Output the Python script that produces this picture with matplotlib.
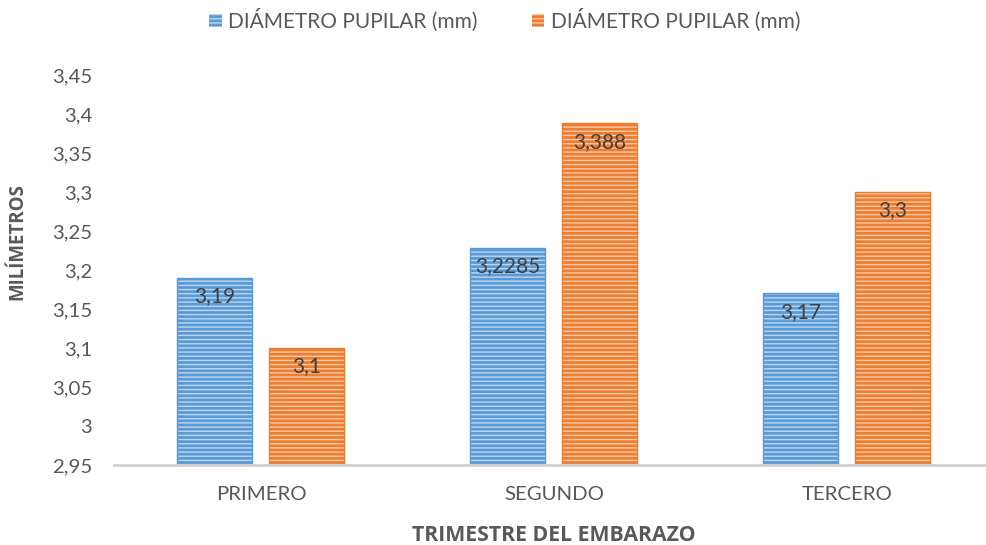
import matplotlib.pyplot as plt
import numpy as np
from matplotlib.patches import Patch

plt.rcParams['font.family'] = ['Lato', 'DejaVu Sans']

categories = ["PRIMERO", "SEGUNDO", "TERCERO"]
serie_1 = [3.19, 3.2285, 3.17]
serie_2 = [3.1, 3.388, 3.3]
labels = ["DIÁMETRO PUPILAR (mm)", "DIÁMETRO PUPILAR (mm)"]
yticks = [2.95, 3.0, 3.05, 3.1, 3.15, 3.2, 3.25, 3.3, 3.35, 3.4, 3.45]

blue = "#5B9BD5"
orange = "#ED7D31"
blue_light = "#BCD6F0"
orange_light = "#F8C9A6"
grey = '#595959'

fmt = lambda v: f"{v:g}".replace('.', ',')

fig = plt.figure(figsize=(9.86, 5.45), dpi=100)
ax = fig.add_axes([0.1161, 0.1468, 0.8915, 0.7156])

x = np.arange(len(categories))
w = 0.256
off = 0.157
base = 2.95
for vals, dx, c, cl in [(serie_1, -off, blue, blue_light), (serie_2, off, orange, orange_light)]:
    h = [v - base for v in vals]
    ax.bar(x + dx, h, w, bottom=base, color=c, edgecolor=cl, hatch='----', linewidth=0)
    ax.bar(x + dx, h, w, bottom=base, fill=False, edgecolor=c, linewidth=1.0)
    for xi, v in zip(x + dx, vals):
        ax.annotate(fmt(v), (xi, v), xytext=(0, -6), textcoords='offset points',
                    ha='center', va='top', fontsize=15, color='#404040')

ax.set_xlim(-0.5, 2.5)
ax.set_ylim(2.95, 3.45)
ax.set_yticks(yticks)
ax.set_yticklabels([fmt(v) for v in yticks])
ax.set_xticks(x)
ax.set_xticklabels(categories)
ax.tick_params(axis='both', length=0, labelsize=14.7, colors=grey)
ax.tick_params(axis='y', pad=16)
ax.tick_params(axis='x', pad=15)
for s in ['top', 'right', 'left']:
    ax.spines[s].set_visible(False)
ax.spines['bottom'].set_color('#D0D0D0')
ax.spines['bottom'].set_linewidth(2)

ax.set_xlabel("TRIMESTRE DEL EMBARAZO", family=['Open Sans', 'DejaVu Sans'], fontsize=15.3,
              fontweight='bold', color=grey, labelpad=16)
ax.set_ylabel("MILÍMETROS", family=['Open Sans', 'DejaVu Sans'], fontsize=13.5,
              fontweight='bold', color=grey)
ax.yaxis.set_label_coords(-0.0995, 0.574)

handles = [Patch(facecolor=blue, edgecolor=blue_light, hatch='----', linewidth=0),
           Patch(facecolor=orange, edgecolor=orange_light, hatch='----', linewidth=0)]
fig.legend(handles, labels, loc='center', bbox_to_anchor=(0.512, 0.963), ncol=2, frameon=False,
           fontsize=15, labelcolor=grey, handlelength=0.6, handleheight=0.6,
           handletextpad=0.3, columnspacing=2.6)

fig.savefig("out.png", dpi=100)
